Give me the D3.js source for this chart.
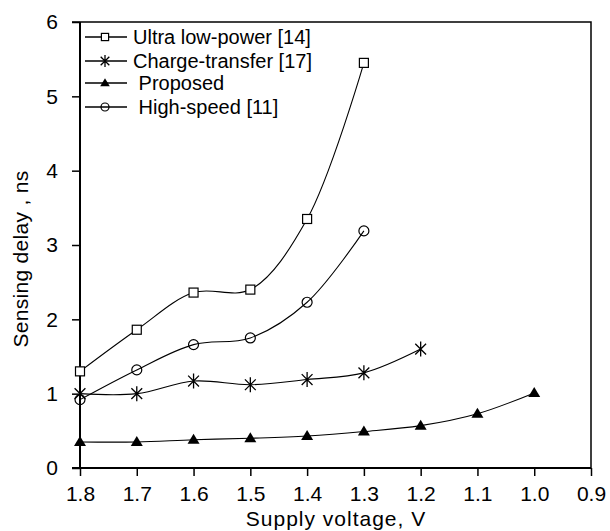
<!DOCTYPE html>
<html>
<head>
<meta charset="utf-8">
<script src="https://cdn.jsdelivr.net/npm/d3@7"></script>
<style>
  body { margin: 0; background: #fff; }
  text { font-family: Arial, "Liberation Sans", sans-serif; fill: #000; }
</style>
</head>
<body>
<svg id="chart" width="610" height="531"></svg>
<script>
// data
var voltages = [1.8, 1.7, 1.6, 1.5, 1.4, 1.3, 1.2, 1.1, 1.0];
var ultraLowPower = [1.30, 1.86, 2.36, 2.40, 3.35, 5.45];
var chargeTransfer = [1.00, 1.00, 1.17, 1.12, 1.19, 1.28, 1.60];
var proposed = [0.35, 0.35, 0.38, 0.40, 0.43, 0.49, 0.57, 0.73, 1.01];
var highSpeed = [0.92, 1.32, 1.66, 1.75, 2.23, 3.19];
var xTicks = [1.8, 1.7, 1.6, 1.5, 1.4, 1.3, 1.2, 1.1, 1.0, 0.9];
var yTicks = [0, 1, 2, 3, 4, 5, 6];

var series = [
    { name: "Ultra low-power [14]", values: ultraLowPower, marker: "square" },
    { name: "Charge-transfer [17]", values: chargeTransfer, marker: "star" },
    { name: " Proposed", values: proposed, marker: "triangle" },
    { name: " High-speed [11]", values: highSpeed, marker: "circle" }
];

var svg = d3.select("#chart"),
    plotL = 80, plotR = 591, plotT = 22, plotB = 468;

var xScale = d3.scaleLinear().domain([1.8, 0.9]).range([plotL, plotR]),
    yScale = d3.scaleLinear().domain([0, 6]).range([plotB, plotT]);

// frame (top and right)
svg.append("path")
    .attr("d", "M" + (plotL - 8) + "," + plotT + "H" + plotR + "V" + plotB)
    .attr("fill", "none").attr("stroke", "#000").attr("stroke-width", 1.5);

var xAxis = svg.append("g").attr("transform", "translate(0," + plotB + ")")
    .call(d3.axisBottom(xScale).tickValues(xTicks).tickFormat(d3.format(".1f")).tickSize(8).tickPadding(10));
var yAxis = svg.append("g").attr("transform", "translate(" + plotL + ",0)")
    .call(d3.axisLeft(yScale).tickValues(yTicks).tickFormat(d3.format("d")).tickSize(8).tickPadding(14));
xAxis.select(".domain").attr("stroke-width", 2).attr("d", "M" + (plotL - 8) + ",0H" + plotR);
yAxis.select(".domain").attr("stroke-width", 2).attr("d", "M0," + plotB + "V" + plotT);
[xAxis, yAxis].forEach(function (g) {
    g.selectAll(".tick line").attr("stroke-width", 1.5);
    g.selectAll(".tick text").attr("font-size", 21).attr("font-family", "Arial, 'Liberation Sans', sans-serif");
});

svg.append("text").attr("x", 336).attr("y", 526).attr("text-anchor", "middle")
    .attr("font-size", 21).attr("letter-spacing", 1).text("Supply voltage, V");
svg.append("text").attr("transform", "translate(28,259) rotate(-90)").attr("text-anchor", "middle")
    .attr("font-size", 21).attr("letter-spacing", 0.3).text("Sensing delay , ns");

function drawMarker(g, type, x, y, s) {
    if (type === "square") {
        g.append("rect").attr("x", x - s * 0.9).attr("y", y - s * 0.9).attr("width", s * 1.8).attr("height", s * 1.8)
            .attr("fill", "#fff").attr("stroke", "#000").attr("stroke-width", 1.2);
    } else if (type === "circle") {
        g.append("circle").attr("cx", x).attr("cy", y).attr("r", s)
            .attr("fill", "none").attr("stroke", "#000").attr("stroke-width", 1.2);
    } else if (type === "triangle") {
        var w = s * 1.2;
        g.append("path").attr("d", "M" + (x - w) + "," + (y + s * 0.8) + "H" + (x + w) + "L" + x + "," + (y - s * 1.2) + "Z")
            .attr("fill", "#000");
    } else {
        var r = s * 1.5, d = r * 0.72;
        g.append("path")
            .attr("d", "M" + x + "," + (y - r) + "V" + (y + r) +
                "M" + (x - d) + "," + (y - d) + "L" + (x + d) + "," + (y + d) +
                "M" + (x - d) + "," + (y + d) + "L" + (x + d) + "," + (y - d))
            .attr("fill", "none").attr("stroke", "#000").attr("stroke-width", 1.3);
    }
}

var line = d3.line()
    .x(function (d, i) { return xScale(voltages[i]); })
    .y(function (d) { return yScale(d); })
    .curve(d3.curveCatmullRom.alpha(0.5));

series.forEach(function (s) {
    svg.append("path").attr("d", line(s.values)).attr("fill", "none")
        .attr("stroke", "#000").attr("stroke-width", 1.1);
    var g = svg.append("g");
    s.values.forEach(function (v, i) {
        drawMarker(g, s.marker, xScale(voltages[i]), yScale(v), 5);
    });
});

// legend
var legendY = [37, 61, 83, 107];
series.forEach(function (s, i) {
    var g = svg.append("g");
    g.append("line").attr("x1", 85).attr("x2", 127).attr("y1", legendY[i]).attr("y2", legendY[i])
        .attr("stroke", "#000").attr("stroke-width", 1.3);
    drawMarker(g, s.marker, 105, legendY[i], 4);
    g.append("text").attr("x", 133).attr("y", legendY[i] + 7).attr("font-size", 20)
        .attr("xml:space", "preserve").style("white-space", "pre").text(s.name);
});
</script>
</body>
</html>
